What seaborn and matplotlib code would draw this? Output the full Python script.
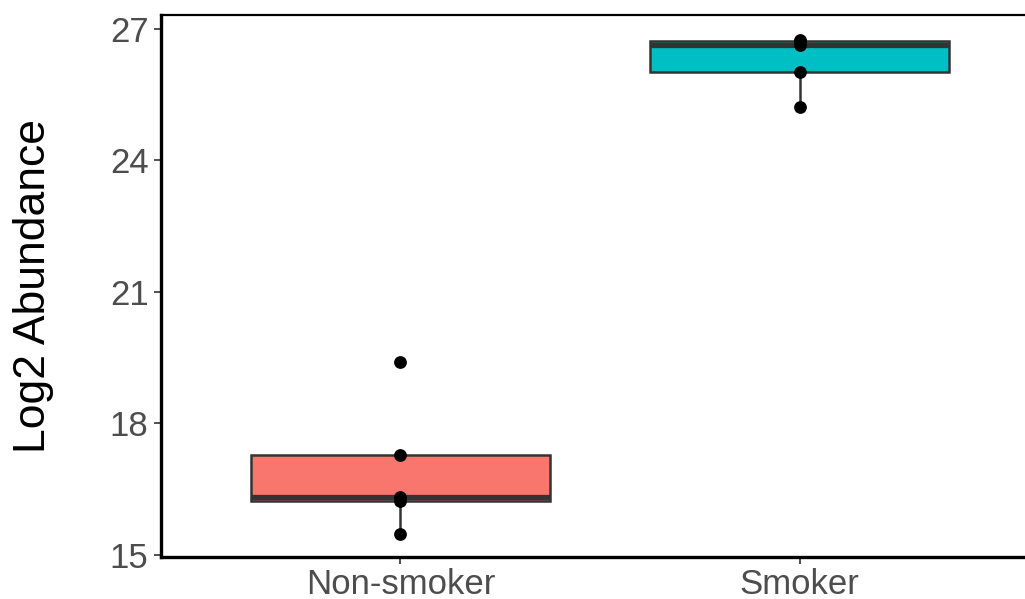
import matplotlib
matplotlib.use("Agg")
import matplotlib.pyplot as plt
import seaborn as sns
import pandas as pd

groups = ["Non-smoker", "Smoker"]
nonsmoker_vals = [15.47, 16.22, 16.33, 17.28, 19.39]
smoker_vals = [25.23, 26.03, 26.63, 26.73, 26.76]
box_colors = ["#F8766D", "#00BFC4"]
y_ticks = [15, 18, 21, 24, 27]
y_label = "Log2 Abundance"

df = pd.DataFrame({
    "group": [groups[0]] * len(nonsmoker_vals) + [groups[1]] * len(smoker_vals),
    "value": nonsmoker_vals + smoker_vals,
})

sns.set_theme(style="white")
plt.rcParams["font.family"] = ["Liberation Sans", "DejaVu Sans"]

fig = plt.figure(figsize=(10.25, 5.99), dpi=100)
ax = fig.add_axes([161 / 1025, 42 / 599, 878 / 1025, 542 / 599])

edge = "#333333"
sns.boxplot(data=df, x="group", y="value", hue="group", order=groups,
            palette=box_colors, saturation=1, width=0.75, showfliers=False,
            legend=False, linewidth=1.8, linecolor=edge, whis=1.5,
            boxprops=dict(edgecolor=edge),
            medianprops=dict(color=edge, linewidth=3.8),
            whiskerprops=dict(color=edge, linewidth=1.8),
            capprops=dict(linewidth=0), ax=ax)

sns.stripplot(data=df, x="group", y="value", order=groups, jitter=False,
              color="black", size=9.2, linewidth=0, ax=ax, zorder=5)

ax.set_xlim(-0.6, 1.6)
ax.set_ylim(14.95, 27.32)
ax.set_yticks(y_ticks)
ax.set_yticklabels([str(t) for t in y_ticks])
ax.set_xlabel("")
ax.set_ylabel(y_label, fontsize=32, color="black")
ax.yaxis.label.set_va("center")
ax.yaxis.set_label_coords((34 - 161) / 878, 0.5)

ax.tick_params(axis="both", which="both", direction="out", length=5, width=1.2,
               color=edge, labelsize=25, labelcolor="#4D4D4D", pad=4,
               left=True, bottom=True)
ax.tick_params(axis="x", pad=3)

for side in ["left", "bottom"]:
    ax.spines[side].set_visible(True)
    ax.spines[side].set_color("black")
    ax.spines[side].set_linewidth(2.4)
for side in ["top", "right"]:
    ax.spines[side].set_visible(True)
    ax.spines[side].set_color("black")
    ax.spines[side].set_linewidth(1.6)
ax.grid(False)

fig.savefig("out.png", dpi=100)
